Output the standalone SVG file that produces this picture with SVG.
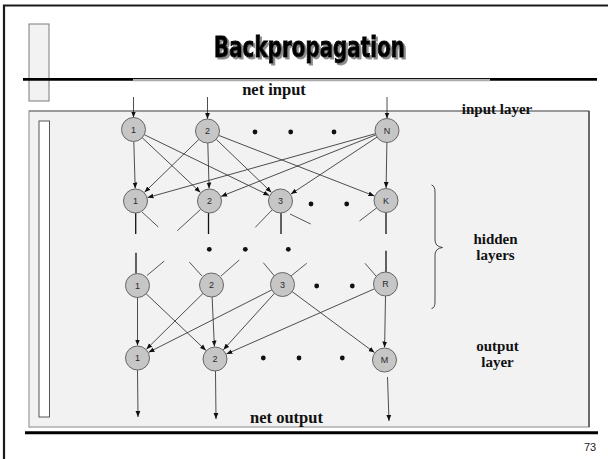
<svg xmlns="http://www.w3.org/2000/svg" width="608" height="459" viewBox="0 0 608 459">
  <defs>
    <marker id="ah" markerUnits="userSpaceOnUse" markerWidth="6" markerHeight="6" viewBox="0 0 6 6" refX="6" refY="3" orient="auto">
      <path d="M0,0.6 L6,3 L0,5.4 Z" fill="#111"/>
    </marker>
    <filter id="shadow" x="-5%" y="-20%" width="115%" height="150%">
      <feDropShadow dx="2" dy="2" stdDeviation="0.4" flood-color="#8c8c8c" flood-opacity="1"/>
    </filter>
    <style>
      .frame { stroke: #1a1a1a; stroke-width: 2.2; fill: none; }
      .node circle { fill: #c6c6c6; stroke: #666; stroke-width: 1; }
      .node text { font-family: "Liberation Sans", Arial, sans-serif; font-size: 9px; fill: #2a2a2a; text-anchor: middle; }
      .arr { stroke: #3a3a3a; stroke-width: 0.9; fill: none; marker-end: url(#ah); }
      .stub { stroke: #444; stroke-width: 0.9; fill: none; }
      .vstub { stroke: #111; stroke-width: 1.3; fill: none; }
      .dot { fill: #111; }
      .lbl { font-family: "Liberation Serif", "Times New Roman", serif; font-weight: bold; font-size: 15px; fill: #111; text-anchor: middle; }
      .big { font-size: 16.5px; }
    </style>
  </defs>

  <rect width="608" height="459" fill="#ffffff"/>

  <!-- page frame -->
  <path class="frame" d="M4,459 V5.5 H608"/>

  <!-- small side tab at the top left -->
  <rect x="29" y="24" width="20" height="77" fill="#f2f2f2" stroke="#7a7a7a" stroke-width="1"/>

  <!-- rule under the title -->
  <line x1="23" y1="79.3" x2="133" y2="79.3" stroke="#000" stroke-width="2.7"/>
  <line x1="133" y1="78.6" x2="490" y2="78.6" stroke="#111" stroke-width="1.3"/>
  <line x1="133" y1="80.4" x2="490" y2="80.4" stroke="#aaa" stroke-width="1.6"/>
  <line x1="490" y1="79.3" x2="597" y2="79.3" stroke="#000" stroke-width="2.7"/>

  <!-- title with drop shadow -->
  <text x="214" y="56.7" textLength="191" lengthAdjust="spacingAndGlyphs" filter="url(#shadow)"
        font-family="'DejaVu Sans Condensed', 'DejaVu Sans', sans-serif" font-weight="bold" font-stretch="condensed" font-size="27.5"
        fill="#000" stroke="#000" stroke-width="0.9">Backpropagation</text>

  <!-- content panel -->
  <rect x="29" y="111" width="560" height="316" fill="#f2f2f2" stroke="#999" stroke-width="1.2"/>
  <line x1="29" y1="111" x2="589" y2="111" stroke="#777" stroke-width="1.2"/>
  <line x1="589" y1="111" x2="589" y2="427" stroke="#333" stroke-width="1.2"/>
  <rect x="39" y="121" width="10.5" height="296" fill="#ffffff" stroke="#555" stroke-width="1"/>

  <!-- bottom rule and page number -->
  <line x1="25" y1="432.7" x2="598" y2="432.7" stroke="#000" stroke-width="3"/>
  <text x="590" y="451" font-family="'Liberation Sans', Arial, sans-serif" font-size="11" fill="#222" text-anchor="middle">73</text>

  <!-- labels -->
  <text class="lbl big" x="274" y="95">net input</text>
  <text class="lbl" x="497" y="114">input layer</text>
  <text class="lbl" x="495.5" y="244">hidden</text>
  <text class="lbl" x="495.5" y="260">layers</text>
  <text class="lbl" x="497.5" y="351">output</text>
  <text class="lbl" x="497.5" y="367">layer</text>
  <text class="lbl big" x="286.5" y="422.5">net output</text>

  <!-- brace for the hidden layers -->
  <path d="M431.5,185 Q435,186 435,192 V240 Q435,246.5 442.5,247.5 Q435,248.5 435,255 V302 Q435,308 431.5,308.5" fill="none" stroke="#333" stroke-width="0.9"/>

  <!-- connectors -->
  <g id="connectors">
    <!-- net input -->
    <line class="arr" x1="133.5" y1="97" x2="133.5" y2="117.5"/>
    <line class="arr" x1="207.5" y1="97" x2="207.5" y2="119"/>
    <line class="arr" x1="387" y1="97" x2="387" y2="118.5"/>

    <!-- input layer to first hidden layer -->
    <line class="arr" x1="133.8" y1="141.5" x2="135.2" y2="188.5"/>
    <line class="arr" x1="142.2" y1="137.7" x2="200.4" y2="192.4"/>
    <line class="arr" x1="144.3" y1="134.7" x2="269.3" y2="195.5"/>
    <line class="arr" x1="198.9" y1="139.4" x2="144.5" y2="192.3"/>
    <line class="arr" x1="207.8" y1="143" x2="209.1" y2="188.5"/>
    <line class="arr" x1="216.2" y1="139.3" x2="271.5" y2="192.4"/>
    <line class="arr" x1="218.7" y1="135.4" x2="374.4" y2="196"/>
    <line class="arr" x1="375.4" y1="133.7" x2="147.5" y2="197.6"/>
    <line class="arr" x1="375.8" y1="134.9" x2="221.1" y2="196.4"/>
    <line class="arr" x1="377" y1="137.1" x2="290.9" y2="194.1"/>
    <line class="arr" x1="386.9" y1="142.5" x2="386.1" y2="188"/>

    <!-- stubs leaving the first hidden layer -->
    <line class="vstub" x1="135.7" y1="213" x2="135.7" y2="234"/>
    <line class="stub" x1="142" y1="212" x2="158.3" y2="227"/>
    <line class="stub" x1="200.5" y1="209.5" x2="177.3" y2="230.7"/>
    <line class="vstub" x1="208.5" y1="213" x2="208.5" y2="234"/>
    <line class="stub" x1="272" y1="210" x2="255.3" y2="227.3"/>
    <line class="vstub" x1="281" y1="213" x2="281" y2="234"/>
    <line class="stub" x1="290" y1="214" x2="310.7" y2="224"/>
    <line class="stub" x1="376.5" y1="208" x2="359.5" y2="221"/>
    <line class="vstub" x1="386" y1="212.5" x2="386" y2="234"/>

    <!-- stubs entering the last hidden layer -->
    <line class="vstub" x1="136" y1="252.7" x2="136" y2="273.5"/>
    <line class="stub" x1="147" y1="275.5" x2="164.3" y2="261"/>
    <line class="stub" x1="202" y1="276" x2="189.3" y2="262"/>
    <line class="stub" x1="221" y1="276" x2="239.3" y2="260"/>
    <line class="stub" x1="274.5" y1="276" x2="263.3" y2="262.7"/>
    <line class="stub" x1="291" y1="276" x2="306.7" y2="263.3"/>
    <line class="stub" x1="376" y1="276" x2="365" y2="263.3"/>
    <line class="vstub" x1="386" y1="250.7" x2="386" y2="272"/>

    <!-- last hidden layer to output layer -->
    <line class="arr" x1="137.5" y1="297.5" x2="137.5" y2="345.5"/>
    <line class="arr" x1="146.2" y1="293.8" x2="205.9" y2="350.4"/>
    <line class="arr" x1="203" y1="293.4" x2="146.4" y2="349.2"/>
    <line class="arr" x1="212.1" y1="297" x2="214.4" y2="346.5"/>
    <line class="arr" x1="271.8" y1="289.9" x2="148.6" y2="352.3"/>
    <line class="arr" x1="274.4" y1="293.4" x2="223.4" y2="349.7"/>
    <line class="arr" x1="292.1" y1="291.6" x2="374.5" y2="352.6"/>
    <line class="arr" x1="374.5" y1="288.8" x2="226.4" y2="354"/>
    <line class="arr" x1="385.5" y1="296" x2="384.6" y2="347.5"/>

    <!-- net output -->
    <line class="arr" x1="137.5" y1="370" x2="138" y2="417"/>
    <line class="arr" x1="215.5" y1="371" x2="216" y2="419"/>
    <line class="arr" x1="387.5" y1="377" x2="389" y2="421"/>
  </g>

  <!-- ellipsis dots -->
  <g id="ellipses">
    <circle class="dot" cx="255" cy="132" r="2.4"/>
    <circle class="dot" cx="290.7" cy="132" r="2.4"/>
    <circle class="dot" cx="334" cy="132" r="2.4"/>
    <circle class="dot" cx="311" cy="204" r="2.4"/>
    <circle class="dot" cx="346.7" cy="204" r="2.4"/>
    <circle class="dot" cx="209.3" cy="249.3" r="2.4"/>
    <circle class="dot" cx="245.3" cy="249.3" r="2.4"/>
    <circle class="dot" cx="288.3" cy="249.3" r="2.4"/>
    <circle class="dot" cx="316.7" cy="286" r="2.4"/>
    <circle class="dot" cx="352.3" cy="286" r="2.4"/>
    <circle class="dot" cx="263.3" cy="358" r="2.4"/>
    <circle class="dot" cx="299" cy="358" r="2.4"/>
    <circle class="dot" cx="342.3" cy="358" r="2.4"/>
  </g>

  <!-- input layer -->
  <g id="in-1" class="node"><circle cx="133.5" cy="129.5" r="12"/><text x="133.5" y="132.7">1</text></g>
  <g id="in-2" class="node"><circle cx="207.5" cy="131" r="12"/><text x="207.5" y="134.2">2</text></g>
  <g id="in-N" class="node"><circle cx="387" cy="130.5" r="12"/><text x="387" y="133.7">N</text></g>

  <!-- first hidden layer -->
  <g id="h1-1" class="node"><circle cx="135.5" cy="201" r="12"/><text x="135.5" y="204.2">1</text></g>
  <g id="h1-2" class="node"><circle cx="209.5" cy="201" r="12"/><text x="209.5" y="204.2">2</text></g>
  <g id="h1-3" class="node"><circle cx="280.5" cy="201" r="12"/><text x="280.5" y="204.2">3</text></g>
  <g id="h1-K" class="node"><circle cx="386" cy="200.5" r="12"/><text x="386" y="203.7">K</text></g>

  <!-- last hidden layer -->
  <g id="h2-1" class="node"><circle cx="137.5" cy="285.5" r="12"/><text x="137.5" y="288.7">1</text></g>
  <g id="h2-2" class="node"><circle cx="211.5" cy="285" r="12"/><text x="211.5" y="288.2">2</text></g>
  <g id="h2-3" class="node"><circle cx="282.5" cy="284.5" r="12"/><text x="282.5" y="287.7">3</text></g>
  <g id="h2-R" class="node"><circle cx="385.5" cy="284" r="12"/><text x="385.5" y="287.2">R</text></g>

  <!-- output layer -->
  <g id="out-1" class="node"><circle cx="137.5" cy="358" r="12"/><text x="137.5" y="361.2">1</text></g>
  <g id="out-2" class="node"><circle cx="215" cy="359" r="12"/><text x="215" y="362.2">2</text></g>
  <g id="out-M" class="node"><circle cx="384.5" cy="360" r="12"/><text x="384.5" y="363.2">M</text></g>
</svg>
